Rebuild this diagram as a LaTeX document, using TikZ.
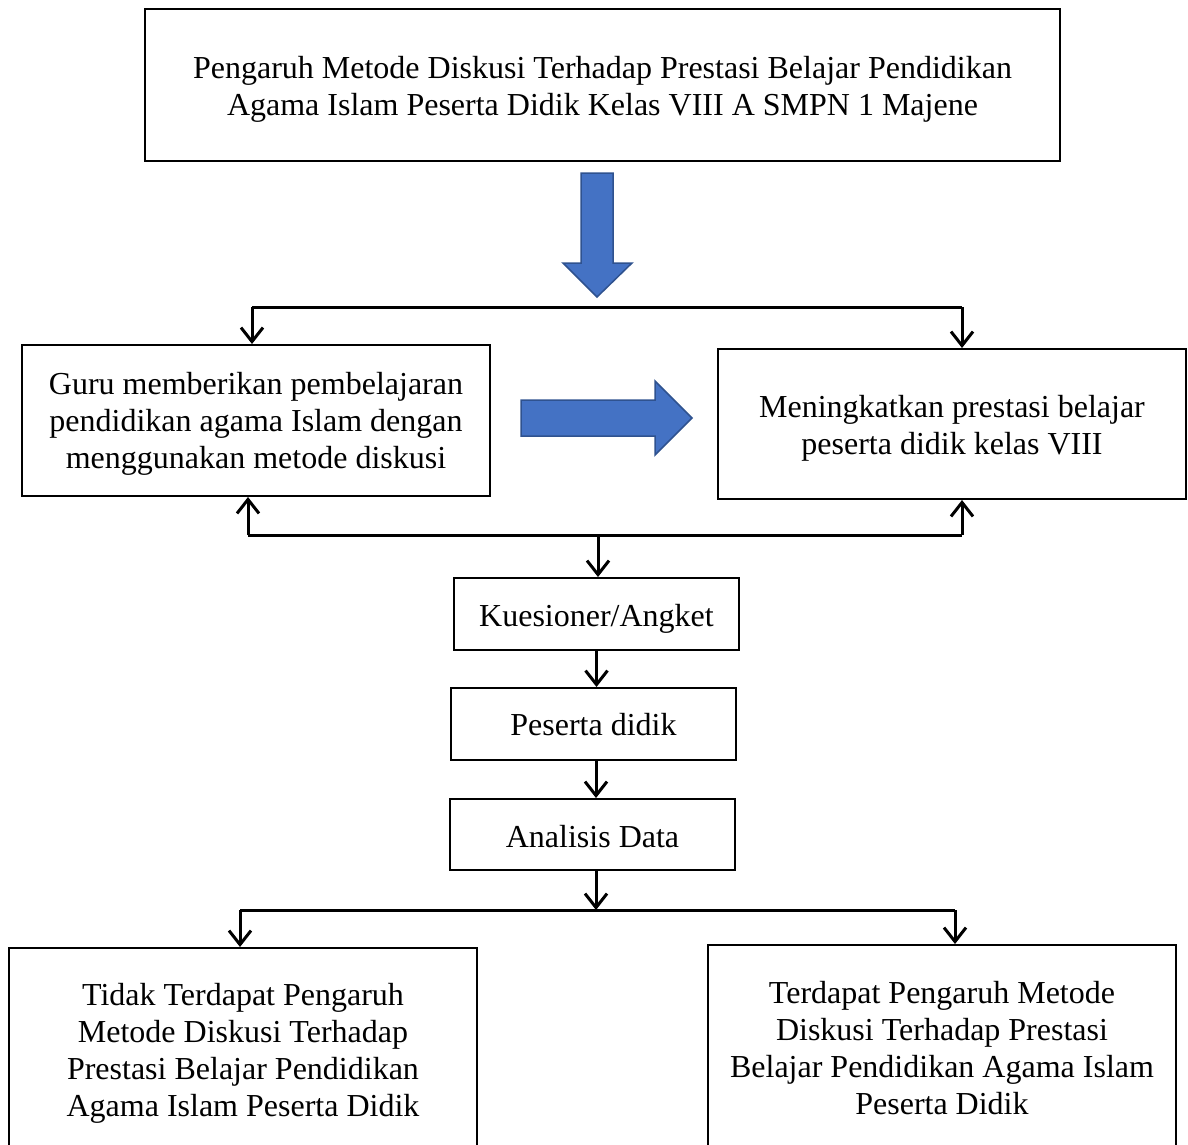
\documentclass[tikz,border=0pt]{standalone}
\usepackage{fontspec}
\setmainfont{Liberation Serif}
\usetikzlibrary{arrows.meta}
\definecolor{arrowblue}{HTML}{4472C4}
\definecolor{arrowedge}{HTML}{2F528F}
\begin{document}
\begin{tikzpicture}[x=1pt,y=-1pt,
  box/.style={draw, line width=2pt, inner sep=0pt},
  boxtext/.style={align=center, inner sep=0pt, font=\fontsize{32}{37}\selectfont},
  conn/.style={line width=3pt, -{Straight Barb[length=14pt,width=22pt]}},
  plain/.style={line width=3pt},
  bigarrow/.style={fill=arrowblue, draw=arrowedge, line width=1.5pt, line join=miter}]
\useasboundingbox (0,0) rectangle (1188,1144);
\clip (0,0) rectangle (1188,1144);
\fill[white] (0,0) rectangle (1188,1144);

\node[box, minimum width=915pt, minimum height=152pt,
  label={[boxtext, yshift=-4pt]center:{Pengaruh Metode Diskusi Terhadap Prestasi Belajar Pendidikan\\Agama Islam Peserta Didik Kelas VIII A SMPN 1 Majene}}]
  (title) at (602.5,85) {};
\node[box, minimum width=468pt, minimum height=151pt,
  label={[boxtext, yshift=-3.5pt]center:{Guru memberikan pembelajaran\\pendidikan agama Islam dengan\\menggunakan metode diskusi}}]
  (left) at (256,420.5) {};
\node[box, minimum width=468pt, minimum height=150pt,
  label={[boxtext, yshift=-4pt]center:{Meningkatkan prestasi belajar\\peserta didik kelas VIII}}]
  (right) at (952,424) {};
\node[box, minimum width=285pt, minimum height=72pt,
  label={[boxtext, yshift=-4.5pt]center:{Kuesioner/Angket}}]
  (kues) at (596.5,614) {};
\node[box, minimum width=285pt, minimum height=72pt,
  label={[boxtext, yshift=-1pt]center:{Peserta didik}}]
  (peserta) at (593.5,724) {};
\node[box, minimum width=285pt, minimum height=71pt,
  label={[boxtext, yshift=-2pt]center:{Analisis Data}}]
  (analisis) at (592.5,834.5) {};
\node[box, minimum width=468pt, minimum height=204pt,
  label={[boxtext, yshift=-3pt]center:{Tidak Terdapat Pengaruh\\Metode Diskusi Terhadap\\Prestasi Belajar Pendidikan\\Agama Islam Peserta Didik}}]
  (bl) at (243,1050) {};
\node[box, minimum width=468pt, minimum height=206pt,
  label={[boxtext, yshift=0pt]center:{Terdapat Pengaruh Metode\\Diskusi Terhadap Prestasi\\Belajar Pendidikan Agama Islam\\Peserta Didik}}]
  (br) at (942,1048) {};

% blue block arrows
\draw[bigarrow] (581,173) -- (613,173) -- (613,263) -- (632,263) -- (597,297)
  -- (563,263) -- (581,263) -- cycle;
\draw[bigarrow] (521,400) -- (655,400) -- (655,381) -- (692,418) -- (655,455)
  -- (655,436) -- (521,436) -- cycle;

% top junction
\coordinate (jtl) at (252,307);
\coordinate (jtr) at (962,307);
\draw[plain] (jtl) -- (jtr);
\draw[conn] (jtl) -- (jtl |- left.north);
\draw[conn] (jtr) -- (jtr |- right.north);

% bottom junction
\coordinate (jbl) at (248,535);
\coordinate (jbr) at (962,535);
\coordinate (jbm) at (598,535);
\draw[plain] (jbl) -- (jbr);
\draw[conn] (jbl) -- (jbl |- left.south);
\draw[conn] (jbr) -- (jbr |- right.south);
\draw[conn] (jbm) -- (jbm |- kues.north);

% chain
\draw[conn] (kues.south) -- (kues.south |- peserta.north);
\draw[conn] (596,0 |- peserta.south) -- (596,0 |- analisis.north);

% lower junction
\coordinate (jcl) at (240,910);
\coordinate (jcr) at (955,910);
\coordinate (jcm) at (596,910);
\draw[conn] (jcm |- analisis.south) -- (jcm);
\draw[plain] (jcl) -- (jcr);
\draw[conn] (jcl) -- (jcl |- bl.north);
\draw[conn] (jcr) -- (jcr |- br.north);
\end{tikzpicture}
\end{document}
